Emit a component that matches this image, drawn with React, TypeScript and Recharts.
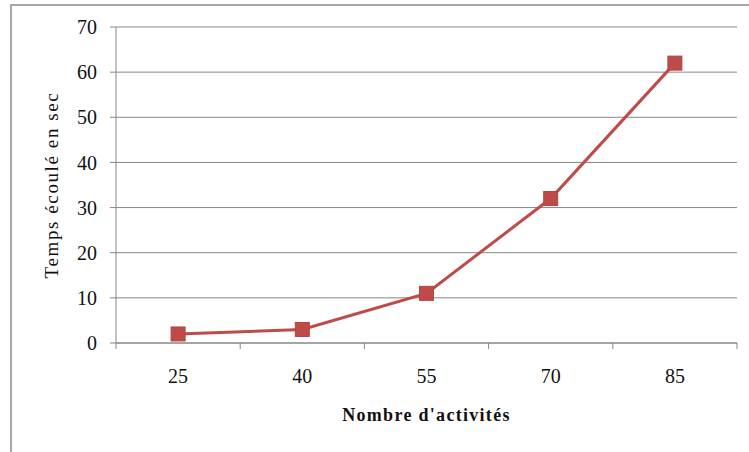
import React from "react";
import { LineChart, Line, XAxis, YAxis, CartesianGrid } from "recharts";

const categories = ["25", "40", "55", "70", "85"];
const tempsValues = [2, 3, 11, 32, 62];
const yTicks = [0, 10, 20, 30, 40, 50, 60, 70];

const data = categories.map((c, i) => ({ cat: c, temps: tempsValues[i] }));

const W = 749;
const H = 452;
const PLOT_LEFT = 116;
const PLOT_RIGHT = 737;
const BAND = (PLOT_RIGHT - PLOT_LEFT) / categories.length;
const FONT = "'Liberation Serif', 'Times New Roman', serif";
const GRID = "#868686";
const RED = "#be4b48";

const XTick = (props: any) => {
  const { x, y, payload, index } = props;
  const left = x - BAND / 2;
  return (
    <g>
      <line x1={left} y1={y - 8} x2={left} y2={y - 2} stroke={GRID} />
      {index === categories.length - 1 && (
        <line x1={x + BAND / 2} y1={y - 8} x2={x + BAND / 2} y2={y - 2} stroke={GRID} />
      )}
      <text x={x} y={y + 32} textAnchor="middle" fontFamily={FONT} fontSize={20} fill="#111">
        {payload.value}
      </text>
    </g>
  );
};

const Marker = (props: any) => {
  const { cx, cy } = props;
  if (cx == null || cy == null) return null;
  return <rect x={cx - 7} y={cy - 7} width={14} height={14} fill={RED} stroke="#b04542" strokeWidth={1} />;
};

const YTitle = (props: any) => {
  const { viewBox } = props;
  const cy = viewBox.y + viewBox.height / 2;
  return (
    <text
      x={51}
      y={cy}
      transform={`rotate(-90, 51, ${cy})`}
      textAnchor="middle"
      dominantBaseline="central"
      fontFamily={FONT}
      fontSize={19}
      letterSpacing={1.6}
      fill="#111"
    >
      Temps écoulé en sec
    </text>
  );
};

export default function App() {
  return (
    <div style={{ position: "fixed", left: 0, top: 0, width: W, height: H, overflow: "hidden", background: "#fff" }}>
      <svg width={W} height={H} style={{ position: "absolute", left: 0, top: 0 }}>
        <rect x={11} y={5} width={W + 20} height={H + 20} fill="none" stroke="#a6a6a6" strokeWidth={2} />
      </svg>
      <div style={{ position: "absolute", left: 0, top: 0 }}>
        <LineChart width={W} height={H} data={data} margin={{ top: 27, right: W - PLOT_RIGHT, left: 0, bottom: 19 }}>
          <CartesianGrid vertical={false} stroke={GRID} strokeWidth={1} />
          <XAxis
            dataKey="cat"
            scale="band"
            height={90}
            axisLine={{ stroke: GRID }}
            tickLine={false}
            tick={<XTick />}
            interval={0}
            label={{
              value: "Nombre d'activités",
              position: "insideBottom",
              offset: 12,
              fontFamily: FONT,
              fontSize: 18,
              fontWeight: "bold",
              letterSpacing: 1.3,
              fill: "#111",
            }}
          />
          <YAxis
            domain={[0, 70]}
            ticks={yTicks}
            width={PLOT_LEFT}
            axisLine={{ stroke: GRID }}
            tickLine={{ stroke: GRID }}
            tickSize={6}
            tickMargin={13}
            tick={{ fontFamily: FONT, fontSize: 20, fill: "#111" }}
            label={{ content: <YTitle /> }}
          />
          <Line
            type="linear"
            dataKey="temps"
            stroke={RED}
            strokeWidth={3}
            dot={<Marker />}
            activeDot={false}
            isAnimationActive={false}
          />
        </LineChart>
      </div>
    </div>
  );
}
